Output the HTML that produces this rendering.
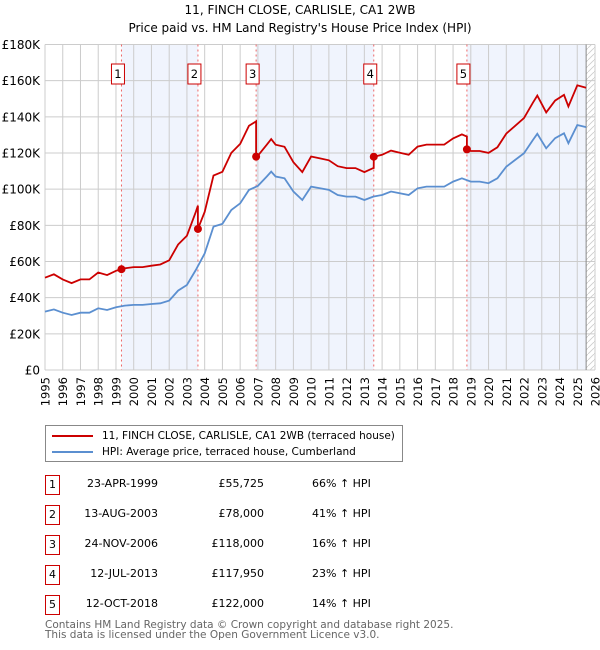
<!DOCTYPE html>
<html><head><meta charset="utf-8">
<style>
body{margin:0;background:#fff;font-family:"DejaVu Sans","Liberation Sans",sans-serif;}
#wrap{position:relative;width:600px;height:650px;overflow:hidden;}
.t{position:absolute;font-size:11px;color:#000;white-space:nowrap}
.box{position:absolute;width:13px;height:18px;border:1px solid #c00;font-size:11px;text-align:center;line-height:18px;background:#fff}
</style></head><body>
<div id="wrap">
<svg id="chart" width="600" height="420" style="position:absolute;left:0;top:0"></svg>
<div style="position:absolute;left:45px;top:425px;width:356px;height:35px;border:1px solid #888;font-size:10.5px;white-space:nowrap">
 <div style="position:absolute;left:6px;top:4px"><span style="display:inline-block;width:41px;height:2px;background:#c00;vertical-align:middle;margin-right:9px"></span>11, FINCH CLOSE, CARLISLE, CA1 2WB (terraced house)</div>
 <div style="position:absolute;left:6px;top:20px"><span style="display:inline-block;width:41px;height:2px;background:#5b8fd0;vertical-align:middle;margin-right:9px"></span>HPI: Average price, terraced house, Cumberland</div>
</div>
<div id="table"></div>
<div class="t" style="left:45px;top:620px;color:#666;line-height:10px;font-size:10.5px">Contains HM Land Registry data © Crown copyright and database right 2025.<br>This data is licensed under the Open Government Licence v3.0.</div>
</div>
<script>
const hpiYears=[1995,1995.5,1996,1996.5,1997,1997.5,1998,1998.5,1999,1999.5,2000,2000.5,2001,2001.5,2002,2002.5,2003,2003.5,2004,2004.5,2005,2005.5,2006,2006.5,2007,2007.5,2007.75,2008,2008.5,2009,2009.5,2010,2010.5,2011,2011.5,2012,2012.5,2013,2013.5,2014,2014.5,2015,2015.5,2016,2016.5,2017,2017.5,2018,2018.5,2019,2019.5,2020,2020.5,2021,2021.5,2022,2022.5,2022.75,2023.25,2023.75,2024.25,2024.5,2025,2025.5];
const hpiValues=[32.3,33.5,31.7,30.4,31.7,31.7,34.1,33.2,34.7,35.6,36,36,36.5,36.9,38.4,43.9,47,55.3,64.5,79.3,80.8,88.5,92.2,99.6,101.8,107,109.7,107,106,98.7,94,101.4,100.5,99.6,96.8,95.9,95.9,94,95.9,96.8,98.7,97.7,96.8,100.5,101.4,101.4,101.4,104.2,106,104.2,104.2,103.3,106,112.5,116.2,119.9,127.2,130.6,122.6,128.2,130.9,125.4,135.5,134.3];
const saleYears=[1999.31,2003.62,2006.9,2013.53,2018.78];
const salePrices=[55.725,78,118,117.95,122];
const saleDates=["23-APR-1999","13-AUG-2003","24-NOV-2006","12-JUL-2013","12-OCT-2018"];
const salePriceLabels=["£55,725","£78,000","£118,000","£117,950","£122,000"];
const saleHpiLabels=["66% ↑ HPI","41% ↑ HPI","16% ↑ HPI","23% ↑ HPI","14% ↑ HPI"];
const yTicks=[0,20,40,60,80,100,120,140,160,180];
const yTickLabels=["£0","£20K","£40K","£60K","£80K","£100K","£120K","£140K","£160K","£180K"];

const X0=45,X1=595,Y0=370,Y1=44.5,YR0=1995,YR1=2026,VMAX=180;
const xs=y=>X0+(y-YR0)/(YR1-YR0)*(X1-X0);
const ys=v=>Y0-v/VMAX*(Y0-Y1);
const NS="http://www.w3.org/2000/svg";
const svg=document.getElementById('chart');
function mk(tag,attrs){const e=document.createElementNS(NS,tag);for(const k in attrs)e.setAttribute(k,attrs[k]);svg.appendChild(e);return e;}
function hpiAt(t){
 if(t<=hpiYears[0])return hpiValues[0];
 for(let i=1;i<hpiYears.length;i++){if(t<=hpiYears[i]){const f=(t-hpiYears[i-1])/(hpiYears[i]-hpiYears[i-1]);return hpiValues[i-1]+f*(hpiValues[i]-hpiValues[i-1]);}}
 return hpiValues[hpiValues.length-1];
}
const bandStarts=[saleYears[0],saleYears[2],saleYears[4]];
const bandEnds=[saleYears[1],saleYears[3],2025.5];
for(let i=0;i<bandStarts.length;i++){
 const r=mk('rect',{x:xs(bandStarts[i]),y:Y1,width:xs(bandEnds[i])-xs(bandStarts[i]),height:Y0-Y1,fill:'#f0f4fd'});
 
 
}
const defs=mk('defs',{});
defs.innerHTML='<pattern id="h" width="6" height="6" patternUnits="userSpaceOnUse"><path d="M0 6 L6 0" stroke="#ccc" stroke-width="0.8"/></pattern>';
const hr=mk('rect',{x:xs(2025.5),y:Y1,width:X1-xs(2025.5),height:Y0-Y1,fill:'url(#h)'});


for(let yr=YR0;yr<=YR1;yr++){
 const g=mk('line',{x1:xs(yr),x2:xs(yr),y1:Y1,y2:Y0,stroke:'#ccc','stroke-width':1});
 
 
 const tx=mk('text',{x:0,y:0,transform:`translate(${xs(yr)+4.5},377) rotate(-90)`,'text-anchor':'end','font-size':11.5,'font-family':'DejaVu Sans, sans-serif'});
 tx.textContent=yr;
 
 
}
for(let i=0;i<yTicks.length;i++){
 const g=mk('line',{x1:X0,x2:X1,y1:ys(yTicks[i]),y2:ys(yTicks[i]),stroke:'#ccc','stroke-width':1});
 
 
 const tx=mk('text',{x:40,y:ys(yTicks[i])+4.5,'text-anchor':'end','font-size':12,'font-family':'DejaVu Sans, sans-serif'});
 tx.textContent=yTickLabels[i];
 
 
}
const nl=mk('line',{x1:xs(2025.5),x2:xs(2025.5),y1:Y1,y2:Y0,stroke:'#888','stroke-width':1});


for(let i=0;i<saleYears.length;i++){
 const l=mk('line',{x1:xs(saleYears[i]),x2:xs(saleYears[i]),y1:Y1,y2:Y0,stroke:'#e66','stroke-width':1,'stroke-dasharray':'2,3'});
 
 
}
let d='';
hpiYears.forEach((t,i)=>{d+=(i?'L':'M')+xs(t).toFixed(1)+' '+ys(hpiValues[i]).toFixed(1);});
const hp=mk('path',{d:d,fill:'none',stroke:'#5b8fd0','stroke-width':1.8});


const times=hpiYears.concat(saleYears,saleYears.map(s=>s-0.001)).sort((a,b)=>a-b);
let pd='';
times.forEach((t,i)=>{
 let k=0;for(let j=0;j<saleYears.length;j++)if(saleYears[j]<=t)k=j;
 const v=hpiAt(t)*salePrices[k]/hpiAt(saleYears[k]);
 pd+=(i?'L':'M')+xs(t).toFixed(1)+' '+ys(v).toFixed(1);
});
const pp=mk('path',{d:pd,fill:'none',stroke:'#c00','stroke-width':1.8});


for(let i=0;i<saleYears.length;i++){
 const c=mk('circle',{cx:xs(saleYears[i]),cy:ys(salePrices[i]),r:4,fill:'#c00'});
 
 
 const b=mk('rect',{x:xs(saleYears[i])-10,y:64,width:13,height:20,fill:'#fff',stroke:'#c00'});
 
 
 const bt=mk('text',{x:xs(saleYears[i])-3.5,y:78,'text-anchor':'middle','font-size':11.5,'font-family':'DejaVu Sans, sans-serif'});
 bt.textContent=i+1;
 
 
}
const tt=mk('text',{x:300,y:14,'text-anchor':'middle','font-size':12,'font-family':'DejaVu Sans, sans-serif'});
tt.textContent='11, FINCH CLOSE, CARLISLE, CA1 2WB';


const st=mk('text',{x:300,y:32,'text-anchor':'middle','font-size':12,'font-family':'DejaVu Sans, sans-serif'});
st.textContent="Price paid vs. HM Land Registry's House Price Index (HPI)";


const tb=document.getElementById('table');
for(let i=0;i<saleDates.length;i++){
 const top=475+i*30;
 const row=document.createElement('div');
 
 
 row.innerHTML=`<div class="box" style="left:45px;top:${top}px">${i+1}</div>
<div class="t" style="right:${600-158}px;top:${top+2}px">${saleDates[i]}</div>
<div class="t" style="right:${600-264}px;top:${top+2}px">${salePriceLabels[i]}</div>
<div class="t" style="left:312px;top:${top+2}px">${saleHpiLabels[i]}</div>`;
 tb.appendChild(row);
}
</script>
</body></html>
